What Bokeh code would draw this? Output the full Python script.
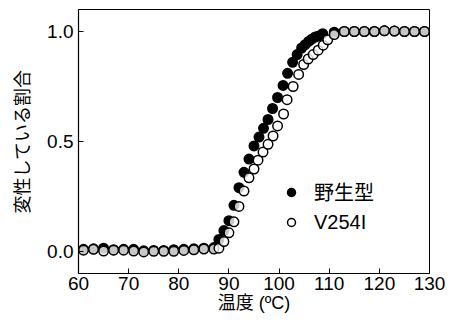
from bokeh.plotting import figure
from bokeh.models import FixedTicker, PrintfTickFormatter, Legend, LegendItem, Range1d
from bokeh.embed import file_html
from bokeh.resources import INLINE

# ---- data ----
temp_wt = [61, 63, 65, 67, 69, 71, 73, 75, 77, 79, 81, 83, 85, 87,
           88.0, 89.0, 90.0, 91.0, 92.0, 93.0, 94.0, 95.0, 96.0, 96.9, 97.8,
           98.7, 99.7, 100.8, 101.7, 102.7, 103.6, 104.5, 105.2, 105.9, 106.5,
           107.2, 107.9, 108.7, 111,
           113, 115, 117, 119, 121, 123, 125, 127, 129]
frac_wt = [0.010, 0.012, 0.015, 0.008, 0.010, 0.010, 0.003, 0.005, 0.005, 0.008, 0.010, 0.012, 0.015, 0.018,
           0.055, 0.095, 0.140, 0.210, 0.290, 0.360, 0.420, 0.480, 0.520, 0.560, 0.600,
           0.650, 0.700, 0.755, 0.810, 0.860, 0.895, 0.925, 0.940, 0.955, 0.965,
           0.975, 0.980, 0.990, 0.997,
           1.000, 1.000, 1.000, 1.000, 1.003, 1.002, 1.000, 1.000, 1.000]

temp_v = [61, 63, 65, 67, 69, 71, 73, 75, 77, 79, 81, 83, 85, 87,
          88.0, 89.0, 90.0, 91.0, 92.0, 93.0, 94.0, 95.0, 95.8, 96.8, 97.8,
          98.8, 99.7, 100.9, 101.6, 102.8, 103.9, 104.9, 105.8, 106.8, 107.8,
          108.8, 109.7, 111,
          113, 115, 117, 119, 121, 123, 125, 127, 129]
frac_v = [0.006, 0.010, 0.002, 0.006, 0.006, 0.002, -0.002, 0.001, 0.001, 0.001, 0.005, 0.008, 0.011, 0.011,
          0.015, 0.045, 0.085, 0.135, 0.205, 0.275, 0.335, 0.375, 0.415, 0.452, 0.487,
          0.525, 0.571, 0.625, 0.690, 0.750, 0.805, 0.850, 0.875, 0.895, 0.915,
          0.938, 0.962, 0.986,
          1.000, 1.000, 1.000, 1.000, 1.003, 1.002, 1.000, 1.000, 1.000]

x_ticks = [60, 70, 80, 90, 100, 110, 120, 130]
y_ticks = [0.0, 0.5, 1.0]
series_names = ["野生型", "V254I"]
x_title = "温度 (ºC)"
y_title = "変性している割合"

FONT = "'Liberation Sans', 'Noto Sans CJK JP'"

p = figure(width=445, height=319,
           x_range=Range1d(60, 130), y_range=Range1d(-0.1, 1.1),
           output_backend="svg", toolbar_location=None,
           min_border_left=78, min_border_right=16,
           min_border_top=9, min_border_bottom=46)

p.background_fill_color = "white"
p.border_fill_color = "white"
p.outline_line_color = "black"
p.outline_line_width = 1
p.grid.visible = False

r_wt = p.scatter(temp_wt, frac_wt, size=9.5, marker="circle",
                 fill_color="black", line_color="black", line_width=1.5)
r_v = p.scatter(temp_v, frac_v, size=9.5, marker="circle",
                fill_color="white", fill_alpha=0.78, line_color="black", line_width=1.5)

for ax in (p.xaxis[0], p.yaxis[0]):
    ax.axis_line_color = "black"
    ax.axis_line_width = 1.2
    ax.major_tick_line_color = "black"
    ax.major_tick_line_width = 1
    ax.major_tick_in = 5
    ax.major_tick_out = 0
    ax.minor_tick_line_color = None
    ax.major_label_text_font = FONT
    ax.major_label_text_font_size = "19px"
    ax.major_label_text_color = "black"
    ax.axis_label_text_font = FONT
    ax.axis_label_text_font_size = "18px"
    ax.axis_label_text_font_style = "normal"
    ax.axis_label_text_color = "black"

p.xaxis.ticker = FixedTicker(ticks=x_ticks)
p.yaxis.ticker = FixedTicker(ticks=y_ticks)
p.yaxis.formatter = PrintfTickFormatter(format="%.1f")
p.xaxis.axis_label = x_title
p.yaxis.axis_label = y_title
p.xaxis.major_label_standoff = 3
p.xaxis.axis_label_standoff = 0
p.yaxis.major_label_standoff = 5
p.yaxis.axis_label_standoff = 11

legend = Legend(items=[LegendItem(label=series_names[0], renderers=[r_wt]),
                       LegendItem(label=series_names[1], renderers=[r_v])],
                location=(203, 39), orientation="vertical",
                glyph_width=20, glyph_height=24, label_height=24,
                spacing=4, padding=0, margin=0, label_standoff=13,
                label_text_font=FONT, label_text_font_size="20px",
                label_text_color="black",
                background_fill_alpha=0, border_line_color=None)
p.add_layout(legend, "center")

open("out.html", "w").write(file_html(p, INLINE))
